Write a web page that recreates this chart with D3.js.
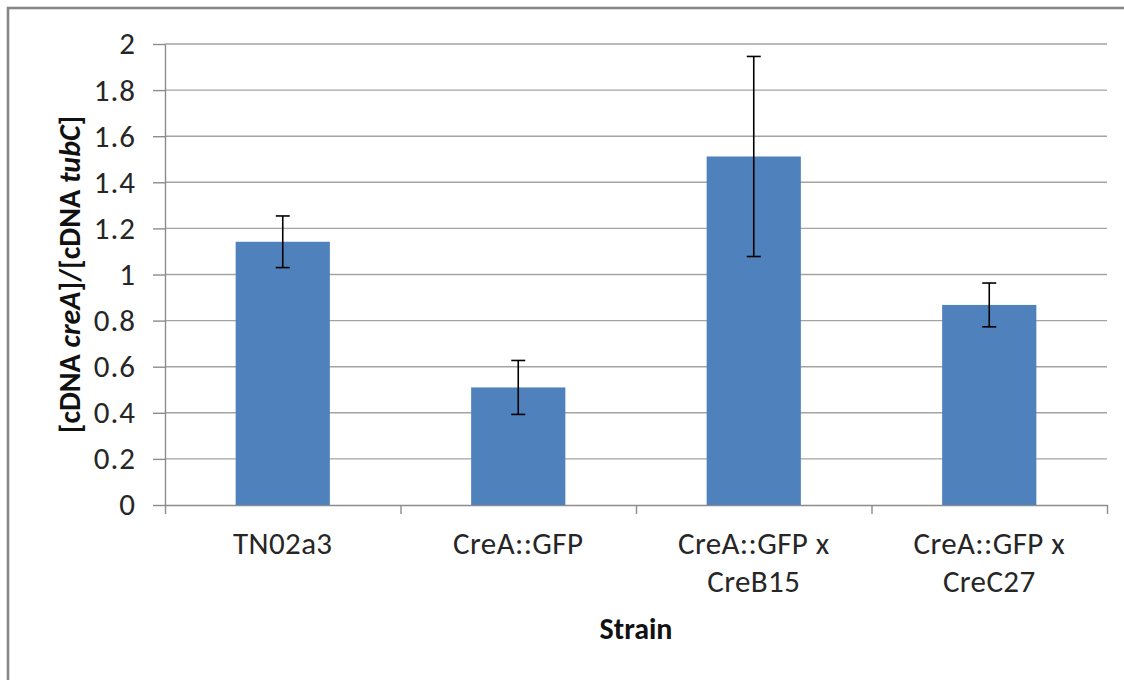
<!DOCTYPE html>
<html>
<head>
<meta charset="utf-8">
<script src="https://d3js.org/d3.v7.min.js"></script>
<style>
  body { margin: 0; background: #fff; }
  svg text { font-family: Carlito, Calibri, Lato, sans-serif; }
</style>
</head>
<body>
<script>
// data
var strains = ['TN02a3', 'CreA::GFP', 'CreA::GFP x CreB15', 'CreA::GFP x CreC27'];
var strainLines = [['TN02a3'], ['CreA::GFP'], ['CreA::GFP x', 'CreB15'], ['CreA::GFP x', 'CreC27']];
var ratio = [1.142, 0.51, 1.512, 0.868];
var ratioErr = [0.112, 0.117, 0.434, 0.095];
var yTicks = [0, 0.2, 0.4, 0.6, 0.8, 1, 1.2, 1.4, 1.6, 1.8, 2];
var yTickLabels = ['0', '0.2', '0.4', '0.6', '0.8', '1', '1.2', '1.4', '1.6', '1.8', '2'];

var svgConfig = {
  width: 1124,
  height: 680,
  left: 165,
  right: 1107,
  top: 44,
  bottom: 505,
  fontSize: 31,
  titleSize: 30
};

var svg = d3.select('body')
  .append('svg')
  .attr('width', svgConfig.width)
  .attr('height', svgConfig.height);

// chart frame
svg.append('rect')
  .attr('x', 8)
  .attr('y', 8)
  .attr('width', 1400)
  .attr('height', 1000)
  .attr('fill', '#fff')
  .attr('stroke', '#878787')
  .attr('stroke-width', 2.6);

var yScale = d3.scaleLinear()
  .domain([0, 2])
  .range([svgConfig.bottom, svgConfig.top]);

var xScale = d3.scaleBand()
  .domain(strains)
  .range([svgConfig.left, svgConfig.right])
  .paddingInner(0.6)
  .paddingOuter(0.3);

// boundaries between categories, for the x ticks
var xEdge = d3.scaleLinear()
  .domain([0, strains.length])
  .range([svgConfig.left, svgConfig.right]);

// grid lines
svg.append('g')
  .selectAll('line')
  .data(yTicks.slice(1))
  .enter()
  .append('line')
  .attr('x1', svgConfig.left)
  .attr('x2', svgConfig.right)
  .attr('y1', function (d) { return yScale(d); })
  .attr('y2', function (d) { return yScale(d); })
  .attr('stroke', '#a3a3a3')
  .attr('stroke-width', 1.4);

// y axis
var yAxis = d3.axisLeft(yScale)
  .tickValues(yTicks)
  .tickFormat(function (d, i) { return yTickLabels[i]; })
  .tickSizeInner(12)
  .tickSizeOuter(0)
  .tickPadding(17);
var gy = svg.append('g')
  .attr('transform', 'translate(' + svgConfig.left + ',0)')
  .call(yAxis);
gy.select('.domain').attr('stroke', '#8c8c8c').attr('stroke-width', 1.4);
gy.selectAll('.tick line').attr('stroke', '#8c8c8c').attr('stroke-width', 1.4);
gy.selectAll('.tick text')
  .attr('font-size', svgConfig.fontSize)
  .attr('letter-spacing', 1)
  .attr('fill', '#262626')
  .style('font-family', 'Carlito, Calibri, Lato, sans-serif');

// x axis
var xAxis = d3.axisBottom(xEdge)
  .tickValues(d3.range(strains.length + 1))
  .tickFormat('')
  .tickSizeInner(9)
  .tickSizeOuter(0);
var gx = svg.append('g')
  .attr('transform', 'translate(0,' + svgConfig.bottom + ')')
  .call(xAxis);
gx.select('.domain').attr('stroke', '#8c8c8c').attr('stroke-width', 1.4);
gx.selectAll('.tick line').attr('stroke', '#8c8c8c').attr('stroke-width', 1.4);

// bars
svg.selectAll('.bar')
  .data(ratio)
  .enter()
  .append('rect')
  .attr('class', 'bar')
  .attr('x', function (d, i) { return xScale(strains[i]); })
  .attr('y', function (d) { return yScale(d); })
  .attr('width', xScale.bandwidth())
  .attr('height', function (d) { return yScale(0) - yScale(d); })
  .attr('fill', '#4f81bd');

// error bars
var errG = svg.selectAll('.err')
  .data(ratio)
  .enter()
  .append('g')
  .attr('class', 'err')
  .attr('stroke', '#000')
  .attr('stroke-width', 1.6);
errG.append('line')
  .attr('x1', function (d, i) { return xScale(strains[i]) + xScale.bandwidth() / 2; })
  .attr('x2', function (d, i) { return xScale(strains[i]) + xScale.bandwidth() / 2; })
  .attr('y1', function (d, i) { return yScale(d + ratioErr[i]); })
  .attr('y2', function (d, i) { return yScale(d - ratioErr[i]); });
[1, -1].forEach(function (s) {
  errG.append('line')
    .attr('x1', function (d, i) { return xScale(strains[i]) + xScale.bandwidth() / 2 - 7; })
    .attr('x2', function (d, i) { return xScale(strains[i]) + xScale.bandwidth() / 2 + 7; })
    .attr('y1', function (d, i) { return yScale(d + s * ratioErr[i]); })
    .attr('y2', function (d, i) { return yScale(d + s * ratioErr[i]); });
});

// category labels
svg.selectAll('.catLabel')
  .data(strainLines)
  .enter()
  .append('text')
  .attr('class', 'catLabel')
  .attr('text-anchor', 'middle')
  .attr('font-size', svgConfig.fontSize)
  .attr('letter-spacing', 0.4)
  .attr('fill', '#262626')
  .each(function (lines, i) {
    var cx = xScale(strains[i]) + xScale.bandwidth() / 2;
    d3.select(this).selectAll('tspan')
      .data(lines)
      .enter()
      .append('tspan')
      .attr('x', cx)
      .attr('y', function (l, j) { return 554 + j * 38; })
      .text(function (l) { return l; });
  });

// axis titles
svg.append('text')
  .attr('x', (svgConfig.left + svgConfig.right) / 2)
  .attr('y', 639)
  .attr('text-anchor', 'middle')
  .attr('font-size', svgConfig.titleSize)
  .attr('font-weight', 'bold')
  .attr('fill', '#111')
  .text('Strain');

var yTitle = svg.append('text')
  .attr('transform', 'translate(80,' + (svgConfig.top + svgConfig.bottom) / 2 + ') rotate(-90)')
  .attr('text-anchor', 'middle')
  .attr('font-size', svgConfig.titleSize)
  .attr('font-weight', 'bold')
  .attr('fill', '#111');
[['[cDNA ', 'normal'], ['creA', 'italic'], [']/[cDNA ', 'normal'], ['tubC', 'italic'], [']', 'normal']]
  .forEach(function (p) {
    yTitle.append('tspan').attr('font-style', p[1]).text(p[0]);
  });
</script>
</body>
</html>
